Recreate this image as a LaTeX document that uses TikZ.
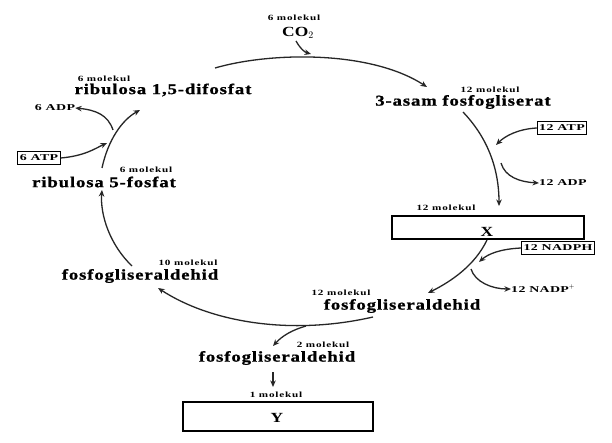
\documentclass[tikz,border=0pt]{standalone}
\usepackage{fontspec}
\setmainfont{Liberation Serif}
\newfontfamily\wideA{Liberation Serif}[FakeStretch=1.25,LetterSpace=6,FakeBold=1]
\newfontfamily\wideB{Liberation Serif}[FakeStretch=1.4,LetterSpace=10]
\newfontfamily\wideC{Liberation Serif}[FakeStretch=1.55,LetterSpace=4]
\newfontfamily\wideD{Liberation Serif}[FakeStretch=1.25]
\usetikzlibrary{arrows.meta}
\begin{document}
\begin{tikzpicture}[x=1bp,y=-1bp,
  big/.style={font=\wideA\fontsize{15}{16}\selectfont\bfseries, inner sep=0pt},
  mol/.style={font=\wideB\fontsize{8}{9}\selectfont\bfseries, inner sep=0pt},
  small/.style={font=\wideC\fontsize{9}{10}\selectfont\bfseries, inner sep=0pt},
  smallbox/.style={small, draw, line width=0.9pt, inner sep=2pt, minimum height=13bp},
  bigbox/.style={draw, line width=1.2pt, inner sep=0pt},
  boxlbl/.style={font=\wideD\fontsize{14}{15}\selectfont\bfseries, inner sep=0pt},
  conn/.style={line width=1.3pt, draw=black!85, -{Stealth[length=6.5bp,width=5.5bp]}}
]
\useasboundingbox (0,0) rectangle (612,443);
\fill[white] (0,0) rectangle (612,443);

% texts
\node[mol] (co2m) at (294,18) {6 molekul};
\node[font=\wideD\fontsize{14}{15}\selectfont\bfseries, inner sep=0pt] (co2) at (298,33) {CO$_2$};

\node[mol] (rubpm) at (104,79) {6 molekul};
\node[big] (rubp) at (163,90) {ribulosa 1,5-difosfat};

\node[mol] (pgam) at (490,90) {12 molekul};
\node[big] (pga) at (463,102) {3-asam fosfogliserat};

\node[smallbox] (atp12) at (562,128) {12 ATP};
\node[small, anchor=west] (adp12) at (539,183) {12 ADP};

\node[mol] (xm) at (446,208) {12 molekul};
\node[bigbox, minimum width=192bp, minimum height=23bp] (xbox) at (488,227.5) {};
\node[boxlbl] (xl) at (487,231.5) {X};

\node[smallbox] (nadph) at (558,248) {12 NADPH};
\node[small, anchor=west] (nadp) at (511,289) {12 NADP$^{+}$};

\node[mol] (g12m) at (341,293) {12 molekul};
\node[big] (g12) at (402,306) {fosfogliseraldehid};

\node[mol] (g2m) at (323,345) {2 molekul};
\node[big] (g2) at (277,358) {fosfogliseraldehid};

\node[mol] (ym) at (276,395) {1 molekul};
\node[bigbox, minimum width=190bp, minimum height=29bp] (ybox) at (278,416.5) {};
\node[boxlbl] (yl) at (277,418) {Y};

\node[mol] (g10m) at (188,263) {10 molekul};
\node[big] (g10) at (140,276) {fosfogliseraldehid};

\node[mol] (r5m) at (146,170) {6 molekul};
\node[big] (r5) at (104,182) {ribulosa 5-fosfat};

\node[smallbox] (atp6) at (39,158) {6 ATP};
\node[small] (adp6) at (55,108) {6 ADP};

% helper coordinates
\coordinate (c1s) at (215,68);
\coordinate (c1e) at (427,87);
\coordinate (c1j) at (311,54);
\coordinate (co2s) at (296,41);
\coordinate (pgas) at (463,112);
\coordinate (pgae) at (499,206);
\coordinate (atpin) at (496,145);
\coordinate (adpout) at (501,163);
\coordinate (xs) at (487,240);
\coordinate (xe) at (428,293);
\coordinate (nin) at (479,262);
\coordinate (nout) at (471,269);
\coordinate (gs) at (373,317);
\coordinate (ge) at (158,288);
\coordinate (gbr) at (306,326);
\coordinate (g2e) at (273,346);
\coordinate (g2s) at (273,372);
\coordinate (ye) at (273,387);
\coordinate (g10s) at (132,266);
\coordinate (g10e) at (102,190);
\coordinate (r5s) at (102,168);
\coordinate (r5e) at (140,110);
\coordinate (a6in) at (107,143);
\coordinate (a6out) at (113,130);

% connectors
\draw[conn] (c1s) .. controls (270,52) and (370,50) .. (c1e);
\draw[conn] (co2s) .. controls (300,48) and (304,52) .. (c1j);
\draw[conn] (pgas) .. controls (485,135) and (499,165) .. (pgae);
\draw[conn] (atp12.west) .. controls (518,129) and (505,136) .. (atpin);
\draw[conn] (adpout) .. controls (505,177) and (520,182) .. (adp12.west);
\draw[conn] (xs) .. controls (475,265) and (452,281) .. (xe);
\draw[conn] (nadph.west) .. controls (500,249) and (488,254) .. (nin);
\draw[conn] (nout) .. controls (475,282) and (492,289) .. (nadp.west);
\draw[conn] (gs) .. controls (290,336) and (210,322) .. (ge);
\draw[conn] (gbr) .. controls (292,330) and (282,336) .. (g2e);
\draw[conn] (g2s) -- (ye);
\draw[conn] (g10s) .. controls (110,245) and (100,215) .. (g10e);
\draw[conn] (r5s) .. controls (108,140) and (122,120) .. (r5e);
\draw[conn] (atp6.east) .. controls (85,156) and (96,148) .. (a6in);
\draw[conn] (a6out) .. controls (108,115) and (96,110) .. (adp6.east);
\end{tikzpicture}
\end{document}
